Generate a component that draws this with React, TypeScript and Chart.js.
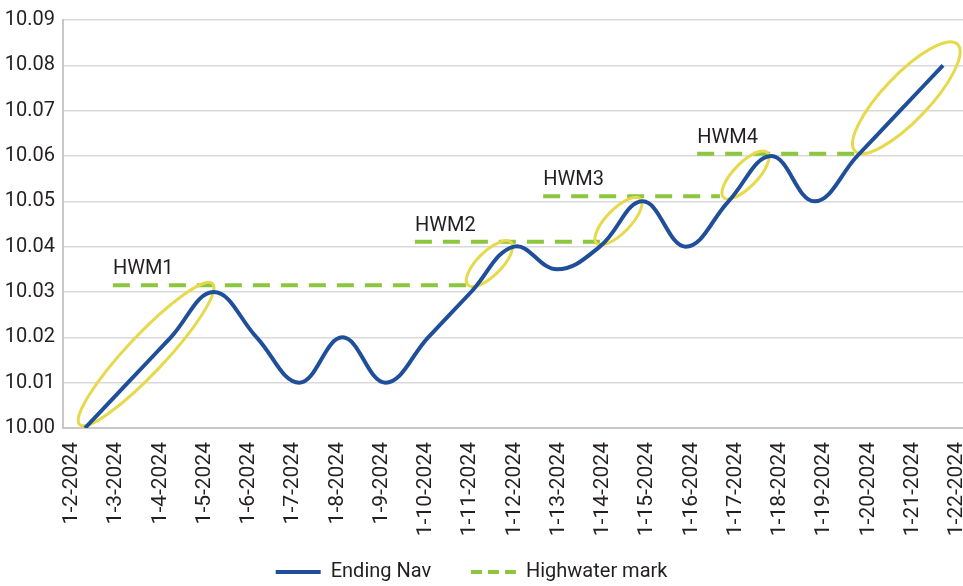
import React, { useEffect, useRef } from 'react';
import { Chart, registerables } from 'chart.js';

Chart.register(...registerables);

const dates = [
  '1-2-2024', '1-3-2024', '1-4-2024', '1-5-2024', '1-6-2024', '1-7-2024', '1-8-2024',
  '1-9-2024', '1-10-2024', '1-11-2024', '1-12-2024', '1-13-2024', '1-14-2024', '1-15-2024',
  '1-16-2024', '1-17-2024', '1-18-2024', '1-19-2024', '1-20-2024', '1-21-2024', '1-22-2024',
];
const endingNav = [
  10.0, 10.01, 10.02, 10.03, 10.02, 10.01, 10.02, 10.01, 10.02, 10.03, 10.04,
  10.035, 10.04, 10.05, 10.04, 10.05, 10.06, 10.05, 10.06, 10.07, 10.08,
];

// Highwater mark segments (day index from / to, NAV level)
const hwmNames = ['HWM1', 'HWM2', 'HWM3', 'HWM4'];
const hwmLevels = [10.0315, 10.0411, 10.0511, 10.0605];
const hwmFrom = [0.65, 7.69, 10.68, 14.27];
const hwmTo = [9.16, 12.0, 14.8, 18.0];

// Highlight ellipses: from (day index, NAV) to (day index, NAV)
const ellipseFromX = [-0.15, 8.9, 11.9, 14.86, 17.93];
const ellipseFromY = [10.0005, 10.0313, 10.0405, 10.0506, 10.0608];
const ellipseToX = [2.995, 9.953, 12.97, 15.93, 20.36];
const ellipseToY = [10.0321, 10.0412, 10.0508, 10.061, 10.0849];

const yMin = 10.0;
const yMax = 10.09;
const yStep = 0.01;

const FONT = 'Roboto, "Noto Sans", sans-serif';
const TEXT = '#231f20';
const BLUE = '#1f4e9a';
const GREEN = '#8cc63f';
const YELLOW = '#e6da4c';
const ellipseHalfWidths = [19, 12, 12, 12, 23];
const legendTrail = ['      ', '    '];

const annotationPlugin = {
  id: 'hwmAnnotations',
  afterDatasetDraw(chart: any, args: any) {
    if (args.index !== 1) return;
    const { ctx } = chart;
    const x = chart.scales.x;
    const y = chart.scales.y;
    ctx.save();
    ctx.strokeStyle = YELLOW;
    ctx.lineWidth = 3;
    ctx.setLineDash([]);
    ellipseFromX.forEach((fx, i) => {
      const x1 = x.getPixelForValue(fx);
      const y1 = y.getPixelForValue(ellipseFromY[i]);
      const x2 = x.getPixelForValue(ellipseToX[i]);
      const y2 = y.getPixelForValue(ellipseToY[i]);
      const cx = (x1 + x2) / 2;
      const cy = (y1 + y2) / 2;
      const a = Math.hypot(x2 - x1, y2 - y1) / 2 - 1.5;
      const ang = Math.atan2(y2 - y1, x2 - x1);
      ctx.beginPath();
      ctx.ellipse(cx, cy, a, ellipseHalfWidths[i], ang, 0, Math.PI * 2);
      ctx.stroke();
    });
    ctx.restore();
  },
  afterDatasetsDraw(chart: any) {
    const { ctx } = chart;
    const x = chart.scales.x;
    const y = chart.scales.y;
    ctx.save();
    ctx.fillStyle = TEXT;
    ctx.font = '20px ' + FONT;
    ctx.textAlign = 'left';
    ctx.textBaseline = 'alphabetic';
    hwmNames.forEach((n, i) => {
      ctx.fillText(n, x.getPixelForValue(hwmFrom[i]), y.getPixelForValue(hwmLevels[i]) - 11);
    });
    ctx.restore();
  },
};

export default function App() {
  const canvasRef = useRef<HTMLCanvasElement | null>(null);

  useEffect(() => {
    document.body.style.margin = '0';
    const canvas = canvasRef.current;
    if (!canvas) return;

    const navPoints = endingNav.map((v, i) => ({ x: i, y: v }));
    const hwmPoints: { x: number; y: number | null }[] = [];
    hwmLevels.forEach((lvl, i) => {
      hwmPoints.push({ x: hwmFrom[i], y: lvl });
      hwmPoints.push({ x: hwmTo[i], y: lvl });
      if (i < hwmLevels.length - 1) hwmPoints.push({ x: hwmTo[i], y: null });
    });

    const chart = new Chart(canvas, {
      type: 'line',
      data: {
        datasets: [
          {
            label: 'Ending Nav',
            data: navPoints,
            borderColor: BLUE,
            backgroundColor: BLUE,
            borderWidth: 4,
            pointRadius: 0,
            tension: 0.4,
            xAxisID: 'x',
            yAxisID: 'y',
          },
          {
            label: 'Highwater mark',
            data: hwmPoints as any,
            borderColor: GREEN,
            backgroundColor: GREEN,
            borderWidth: 4,
            borderDash: [17, 11],
            pointRadius: 0,
            tension: 0,
            spanGaps: false,
            xAxisID: 'x',
            yAxisID: 'y',
          },
        ],
      },
      options: {
        responsive: false,
        animation: false,
        events: [],
        layout: { padding: { top: 16, left: 0, right: 0, bottom: -6 } },
        scales: {
          x: {
            type: 'linear',
            display: false,
            min: -0.513,
            max: 20.466,
          },
          xl: {
            type: 'linear',
            position: 'bottom',
            min: -0.2034,
            max: 20.136,
            grid: { drawOnChartArea: false, drawTicks: false },
            border: { display: true, color: '#c8c8c8', width: 2 },
            ticks: {
              stepSize: 1,
              autoSkip: false,
              includeBounds: false,
              minRotation: 90,
              maxRotation: 90,
              padding: 14,
              color: TEXT,
              font: { family: FONT, size: 21 },
              callback: (v: any) => (Number.isInteger(v) && dates[v] ? dates[v] : ''),
            },
            afterFit: (s: any) => {
              s.height = 124;
              s.paddingLeft = 0;
              s.paddingRight = 0;
            },
          },
          y: {
            type: 'linear',
            min: yMin,
            max: yMax,
            grid: { color: '#d9d9d9', lineWidth: 1.5, drawTicks: false },
            border: { display: true, color: '#c8c8c8', width: 2 },
            ticks: {
              stepSize: yStep,
              padding: 8,
              color: TEXT,
              font: { family: FONT, size: 20 },
              callback: (v: any) => Number(v).toFixed(2),
            },
            afterFit: (s: any) => {
              s.width = 63;
            },
          },
        },
        plugins: {
          tooltip: { enabled: false },
          legend: {
            position: 'bottom',
            labels: {
              usePointStyle: true,
              pointStyle: 'line',
              pointStyleWidth: 45,
              padding: 10,
              color: TEXT,
              font: { family: FONT, size: 20 },
              generateLabels: (c: any) => {
                const items = (Chart as any).defaults.plugins.legend.labels.generateLabels(c);
                items.forEach((it: any, i: number) => {
                  it.pointStyle = 'line';
                  it.text = it.text + (legendTrail[i] || '');
                  if (it.datasetIndex === 1) it.lineDash = [11, 6];
                });
                return items;
              },
            },
          },
        },
      } as any,
      plugins: [annotationPlugin],
    });

    return () => chart.destroy();
  }, []);

  return (
    <div style={{ width: 963, height: 586 }}>
      <canvas ref={canvasRef} width={963} height={586} />
    </div>
  );
}
